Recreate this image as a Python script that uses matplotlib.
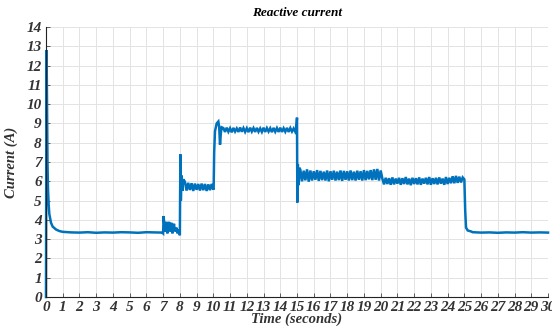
import numpy as np
import matplotlib
matplotlib.use("Agg")
import matplotlib.pyplot as plt

# ---- data ----
t_start = [0.0, 0.03, 0.05, 0.07, 0.09, 0.12, 0.16, 0.2, 0.3, 0.4, 0.6, 0.8, 1.0, 1.3]
i_start = [0.0, 12.8, 11.3, 9.0, 7.0, 5.6, 4.8, 4.3, 3.85, 3.65, 3.5, 3.42, 3.38, 3.36]

t_quiet1 = [1.5, 2.0, 2.5, 3.0, 3.5, 4.0, 4.5, 5.0, 5.5, 6.0, 6.5, 6.95]
i_quiet1 = [3.35, 3.34, 3.36, 3.33, 3.35, 3.34, 3.36, 3.35, 3.33, 3.36, 3.35, 3.34]

t_step8 = [7.0, 7.03, 7.1, 7.2, 7.25, 7.35, 7.4, 7.5, 7.55, 7.65, 7.7, 7.8, 7.85, 7.95,
           8.0, 8.03, 8.06, 8.1, 8.15, 8.2]
i_step8 = [3.3, 4.2, 3.4, 3.9, 3.3, 3.9, 3.4, 3.85, 3.3, 3.8, 3.4, 3.6, 3.3, 3.5,
           3.2, 7.4, 5.0, 6.3, 5.5, 6.1]

i_seg8 = [5.98, 5.52, 5.92, 5.55, 5.90, 5.50, 5.88, 5.56, 5.86, 5.52,
          5.88, 5.54, 5.86, 5.50, 5.84, 5.54, 5.86, 5.56]          # 8.3 .. 10.0

t_step10 = [10.02, 10.05, 10.1, 10.2, 10.3, 10.35, 10.4, 10.45, 10.5]
i_step10 = [5.7, 7.5, 8.6, 9.0, 9.1, 8.8, 7.9, 8.5, 8.8]

i_seg10 = [8.76, 8.56, 8.78, 8.57, 8.75, 8.54, 8.77, 8.58, 8.74, 8.56,
           8.79, 8.57, 8.76, 8.56, 8.75, 8.55, 8.78, 8.58, 8.76, 8.56,
           8.77, 8.57, 8.74, 8.56, 8.78, 8.56, 8.76, 8.58, 8.75, 8.55,
           8.77, 8.57, 8.76, 8.56, 8.78, 8.56, 8.75, 8.57, 8.77, 8.56,
           8.76, 8.58, 8.74, 8.56]                                   # 10.6 .. 14.9

t_step15 = [14.95, 15.0, 15.02, 15.05, 15.1, 15.15]
i_step15 = [8.65, 9.3, 4.9, 6.9, 5.8, 6.7]

i_seg15 = [6.60, 6.00, 6.55, 6.05, 6.62, 5.98, 6.56, 6.04, 6.52, 6.08,
           6.58, 6.02, 6.54, 6.06, 6.50, 6.04, 6.56, 6.00, 6.52, 6.08,
           6.55, 6.04, 6.50, 6.06, 6.56, 6.02, 6.54, 6.08, 6.52, 6.04,
           6.56, 6.06, 6.50, 6.04, 6.55, 6.08, 6.52, 6.04, 6.58, 6.06,
           6.54, 6.10, 6.58, 6.06, 6.62, 6.08, 6.64, 6.04, 6.56]     # 15.2 .. 20.0

i_seg20 = [6.14, 5.84, 6.18, 5.86, 6.16, 5.82, 6.20, 5.84, 6.14, 5.88,
           6.18, 5.82, 6.16, 5.86, 6.22, 5.84, 6.14, 5.80, 6.18, 5.86,
           6.16, 5.84, 6.20, 5.82, 6.14, 5.88, 6.18, 5.84, 6.22, 5.82,
           6.16, 5.86, 6.18, 5.84, 6.20, 5.88, 6.14, 5.82, 6.22, 5.86,
           6.18, 5.90, 6.26, 5.90, 6.28, 5.92, 6.24, 5.94, 6.20]     # 20.1 .. 24.9

t_step25 = [25.0, 25.05, 25.1, 25.2, 25.4]
i_step25 = [6.1, 4.5, 3.6, 3.45, 3.4]

t_quiet2 = [25.5, 26.0, 26.5, 27.0, 27.5, 28.0, 28.5, 29.0, 29.5, 30.0]
i_quiet2 = [3.36, 3.34, 3.35, 3.33, 3.35, 3.34, 3.36, 3.34, 3.35, 3.34]

x_ticks = list(range(0, 31))
y_ticks = list(range(0, 15))

# ---- assemble the series ----
t = np.concatenate([
    t_start, t_quiet1, t_step8,
    8.3 + 0.1 * np.arange(len(i_seg8)),
    t_step10,
    10.6 + 0.1 * np.arange(len(i_seg10)),
    t_step15,
    15.2 + 0.1 * np.arange(len(i_seg15)),
    20.1 + 0.1 * np.arange(len(i_seg20)),
    t_step25, t_quiet2])
i = np.concatenate([i_start, i_quiet1, i_step8, i_seg8, i_step10, i_seg10,
                    i_step15, i_seg15, i_seg20, i_step25, i_quiet2])

# ---- plot ----
plt.rcParams['font.family'] = ['Liberation Serif', 'DejaVu Serif']
fig = plt.figure(figsize=(5.52, 3.27), dpi=100)
ax = fig.add_axes([0.0833, 0.0917, 0.9095, 0.8257])

ax.plot(t, i, color='#0072BD', lw=1.8, solid_joinstyle='miter', clip_on=False)

ax.set_xlim(0, 30)
ax.set_ylim(0, 14)
ax.set_xticks(x_ticks)
ax.set_yticks(y_ticks)
ax.grid(True, color='#e3e3e3', lw=0.7)
ax.set_axisbelow(True)
for s in ['top', 'right']:
    ax.spines[s].set_visible(False)
for s in ['left', 'bottom']:
    ax.spines[s].set_color('#222222')
    ax.spines[s].set_linewidth(0.8)
ax.tick_params(direction='in', length=3, width=0.6, color='#444444',
               labelsize=11, pad=3)
for lab in ax.get_xticklabels() + ax.get_yticklabels():
    lab.set_fontweight('bold')
    lab.set_fontstyle('italic')
    lab.set_color('#333333')

ax.set_title('Reactive current', fontsize=9.5, fontweight='bold',
             fontstyle='italic', pad=8)
ax.set_xlabel('Time (seconds)', fontsize=10.5, fontweight='bold',
              fontstyle='italic', labelpad=-1, color='#333333')
ax.set_ylabel('Current (A)', fontsize=10.5, fontweight='bold',
              fontstyle='italic', labelpad=6, color='#333333')

fig.savefig('out.png', dpi=100)
